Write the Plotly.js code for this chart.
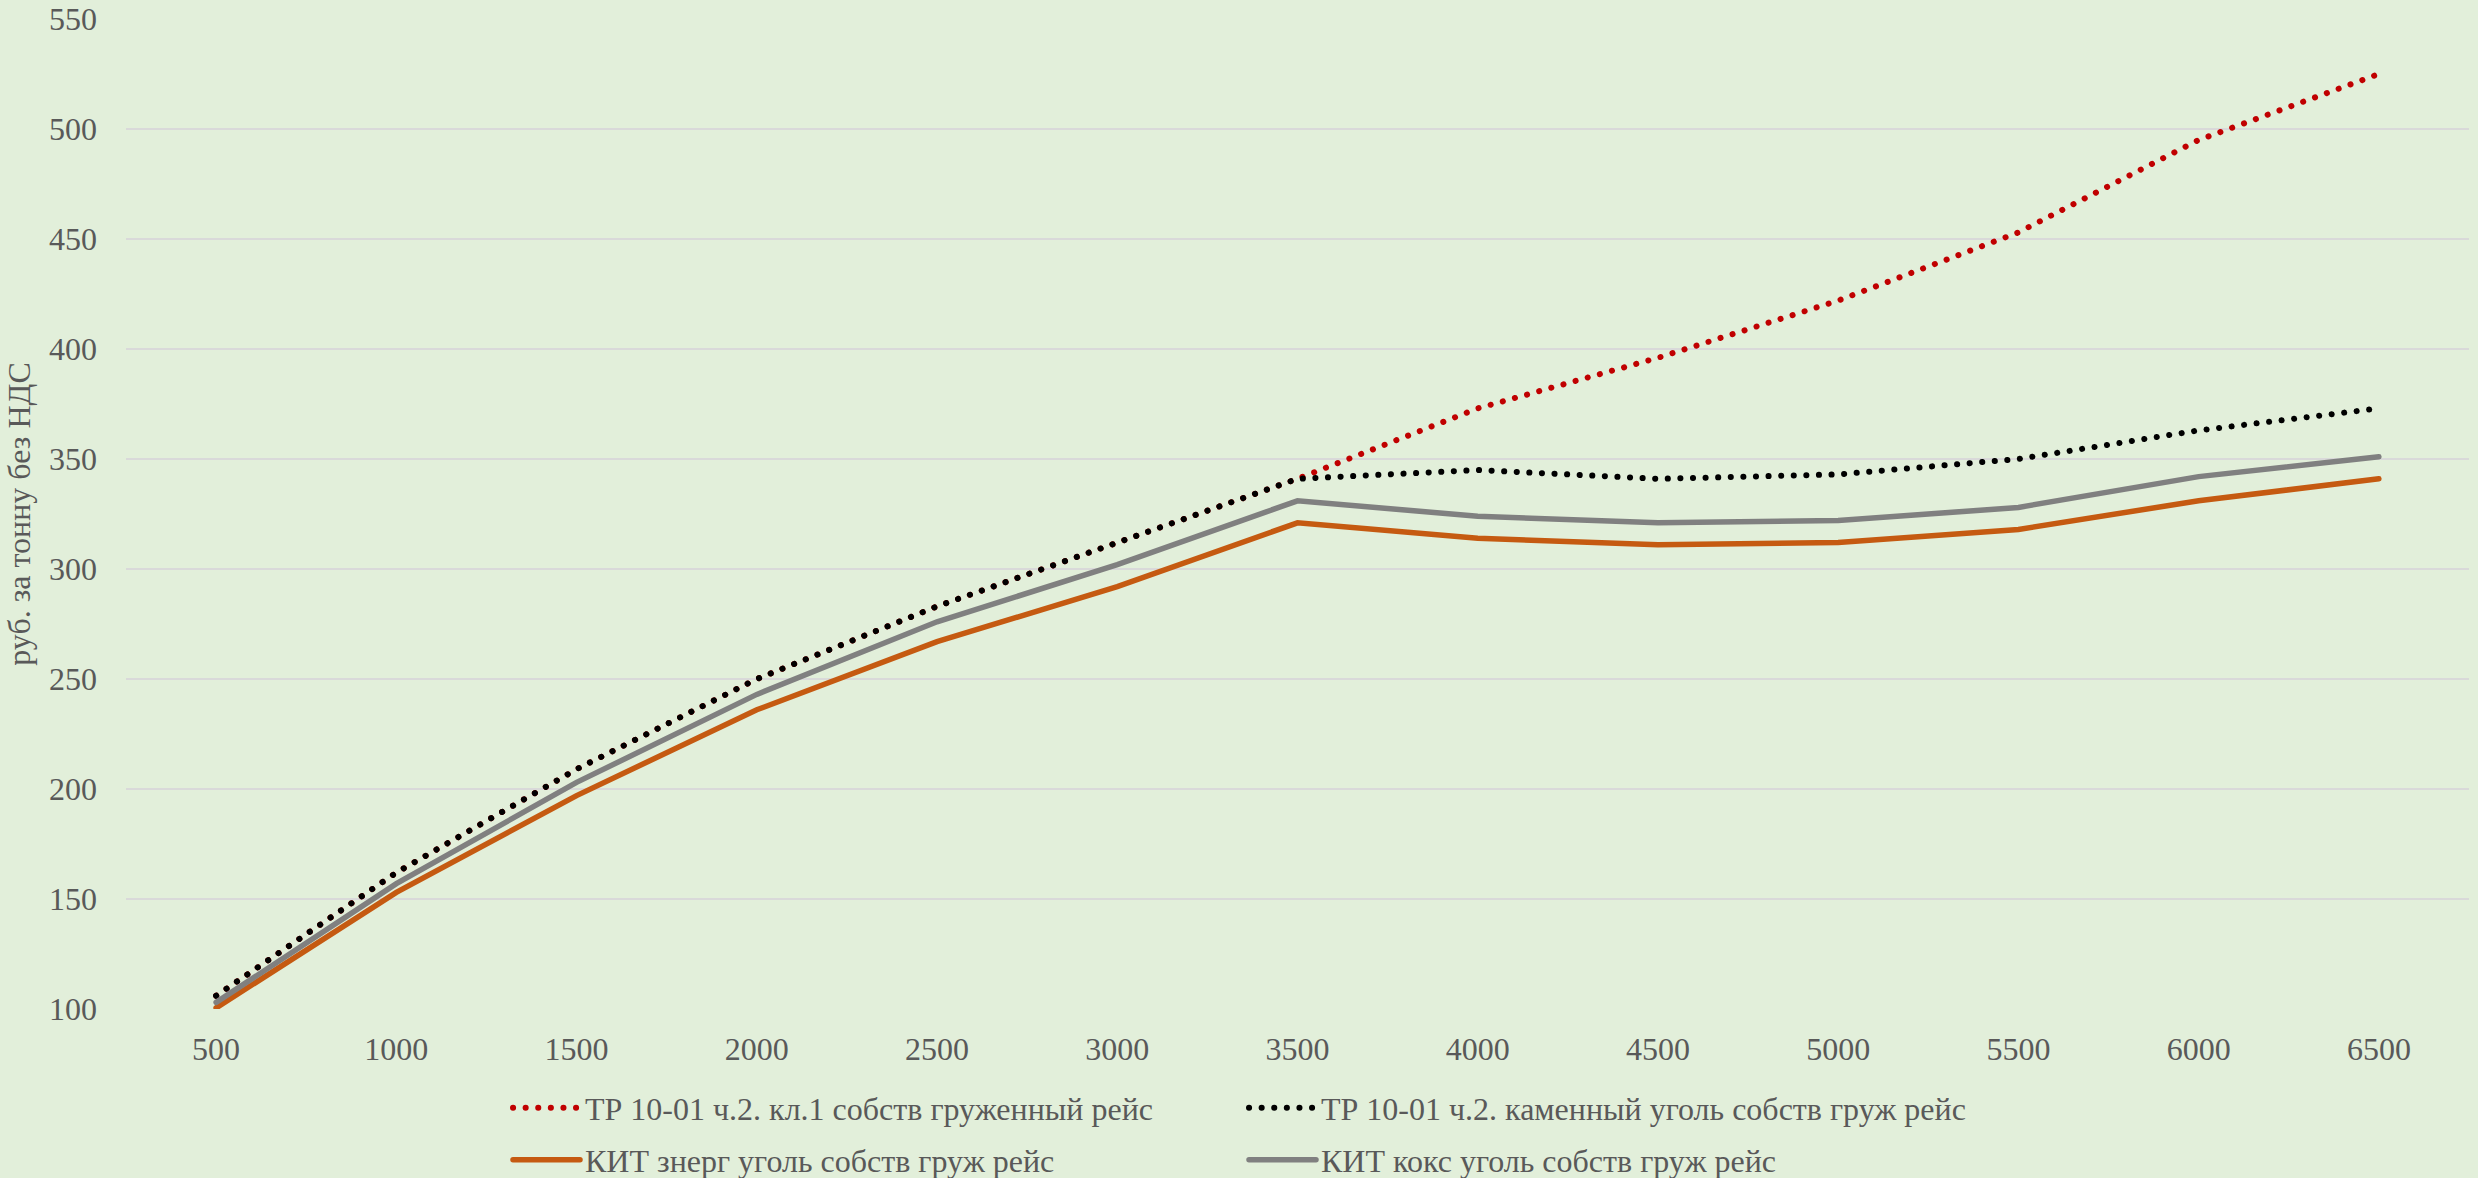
<!DOCTYPE html>
<html>
<head>
<meta charset="utf-8">
<script src="https://cdn.plot.ly/plotly-3.0.1.min.js"></script>
<style>
  html, body { margin: 0; padding: 0; background: #E2EFDA; }
  #chart { width: 2478px; height: 1178px; }
  /* круглые точки у пунктирных линий, как в Excel */
  .js-line { stroke-linecap: round; }
</style>
</head>
<body>
<div id="chart"></div>
<script>
// Расстояние, км (категории оси X)
const distances = ['500', '1000', '1500', '2000', '2500', '3000', '3500',
                   '4000', '4500', '5000', '5500', '6000', '6500'];

// ТР 10-01 ч.2. кл.1 собств груженный рейс
const trKl1 = [106, 162, 209, 250, 283, 312, 341, 373, 396, 422, 453, 495, 525];
// ТР 10-01 ч.2. каменный уголь собств груж рейс
const trKamUgol = [106, 162, 209, 250, 283, 312, 341, 345, 341, 343, 350, 363, 373];
// КИТ знерг уголь собств груж рейс
const kitEnerg = [100.5, 153, 197, 236, 267, 292, 321, 314, 311, 312, 318, 331, 341];
// КИТ кокс уголь собств груж рейс
const kitKoks = [103, 157, 203, 243, 276, 302, 331, 324, 321, 322, 328, 342, 351];

const yTicks = [100, 150, 200, 250, 300, 350, 400, 450, 500, 550];

const FONT = '"Liberation Serif", "Times New Roman", serif';
const TEXT_COLOR = '#595959';

const traces = [
    {
        x: distances, y: trKl1, type: 'scatter', mode: 'lines',
        name: 'ТР 10-01 ч.2. кл.1 собств груженный рейс',
        line: { color: '#C00000', width: 6, dash: '0.1px,12.5px' },
        legend: 'legend'
    },
    {
        x: distances, y: trKamUgol, type: 'scatter', mode: 'lines',
        name: 'ТР 10-01 ч.2. каменный уголь собств груж рейс',
        line: { color: '#000000', width: 6, dash: '0.1px,12.5px' },
        legend: 'legend'
    },
    {
        x: distances, y: kitEnerg, type: 'scatter', mode: 'lines',
        name: 'КИТ знерг уголь собств груж рейс',
        line: { color: '#C55A11', width: 5.5 },
        legend: 'legend2'
    },
    {
        x: distances, y: kitKoks, type: 'scatter', mode: 'lines',
        name: 'КИТ кокс уголь собств груж рейс',
        line: { color: '#808080', width: 5.5 },
        legend: 'legend2'
    }
];

const legendBase = {
    orientation: 'h',
    xref: 'container',
    yref: 'container',
    x: 508 / 2478,
    xanchor: 'left',
    yanchor: 'middle',
    entrywidth: 654,
    entrywidthmode: 'pixels',
    itemwidth: 67,
    bgcolor: 'rgba(0,0,0,0)',
    font: { family: FONT, size: 32, color: TEXT_COLOR },
    traceorder: 'normal'
};

const layout = {
    width: 2478,
    height: 1178,
    paper_bgcolor: '#E2EFDA',
    plot_bgcolor: '#E2EFDA',
    font: { family: FONT, size: 32, color: TEXT_COLOR },
    margin: { l: 126, r: 9, t: 19, b: 169 },
    xaxis: {
        type: 'category',
        range: [-0.5, 12.5],
        showgrid: false,
        zeroline: false,
        showline: false,
        ticks: '',
        ticklabelstandoff: 18,
        tickfont: { family: FONT, size: 32, color: TEXT_COLOR }
    },
    yaxis: {
        range: [100, 550],
        tickvals: yTicks,
        showgrid: true,
        gridcolor: '#D9D9D9',
        gridwidth: 2,
        zeroline: false,
        showline: false,
        ticks: '',
        ticklabelstandoff: 28,
        tickfont: { family: FONT, size: 32, color: TEXT_COLOR },
        title: {
            text: 'руб. за тонну без НДС',
            standoff: 8,
            font: { family: FONT, size: 32, color: TEXT_COLOR }
        }
    },
    showlegend: true,
    legend: Object.assign({}, legendBase, { y: 1 - 1108 / 1178 }),
    legend2: Object.assign({}, legendBase, { y: 1 - 1160 / 1178 })
};

const config = { displayModeBar: false, responsive: false };

Plotly.newPlot('chart', traces, layout, config);
</script>
</body>
</html>
